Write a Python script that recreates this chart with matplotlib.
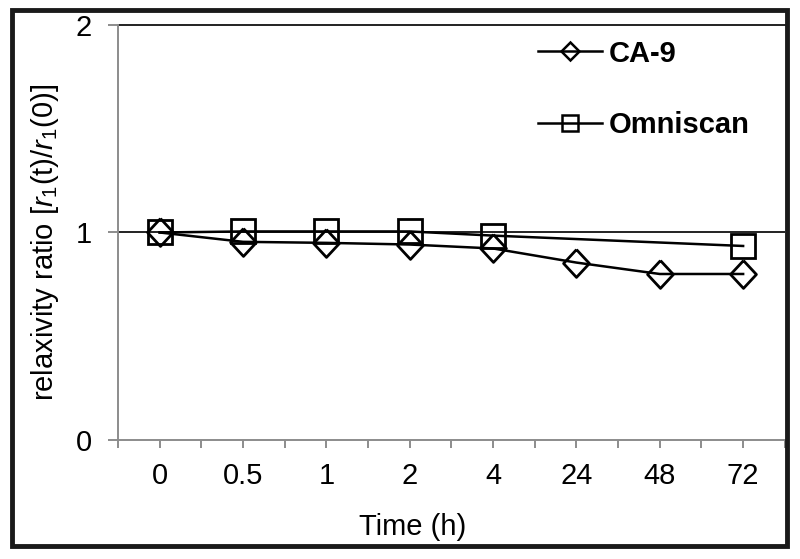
import numpy as np
import matplotlib
matplotlib.use("Agg")
from matplotlib import pyplot as plt
from matplotlib.lines import Line2D
from matplotlib.patches import Rectangle

plt.rcParams['font.family'] = 'Liberation Sans'
plt.rcParams['mathtext.fontset'] = 'custom'
plt.rcParams['mathtext.rm'] = 'Liberation Sans'
plt.rcParams['mathtext.it'] = 'Liberation Sans:italic'

# data
time_labels = ['0', '0.5', '1', '2', '4', '24', '48', '72']
ca9_values = [1.0, 0.955, 0.95, 0.942, 0.923, 0.855, 0.80, 0.80]
omni_labels = ['0', '0.5', '1', '2', '4', '72']
omni_values = [1.0, 1.005, 1.005, 1.005, 0.985, 0.935]

x_ca9 = np.arange(len(time_labels))
x_omni = [time_labels.index(t) for t in omni_labels]

# diamonds are a touch taller than wide
diamond = [(0, 1), (0.93, 0), (0, -1), (-0.93, 0), (0, 1)]

fig = plt.figure(figsize=(8, 5.59), dpi=100)
ax = fig.add_axes([0.1475, 0.2129, 0.8335, 0.7424])

ax.axhline(1, color='#222222', lw=1.4, zorder=1)
ax.axhline(2, color='#222222', lw=1.4, zorder=1, clip_on=False)

ax.plot(x_ca9, ca9_values, color='black', lw=1.8, marker=diamond,
        markersize=20, markerfacecolor='none', markeredgecolor='black',
        markeredgewidth=2.0, zorder=3)
ax.plot(x_omni, omni_values, color='black', lw=1.8, marker='s',
        markersize=17, markerfacecolor='none', markeredgecolor='black',
        markeredgewidth=2.0, zorder=3)

ax.set_xlim(-0.5, len(time_labels) - 0.5)
ax.set_ylim(0, 2)
ax.set_yticks([0, 1, 2])
ax.set_xticks(x_ca9)
ax.set_xticklabels(time_labels)
ax.set_xticks(np.arange(-0.5, len(time_labels), 1.0), minor=True)

for side in ['top', 'right']:
    ax.spines[side].set_visible(False)
for side in ['left', 'bottom']:
    ax.spines[side].set_color('#8c8c8c')
    ax.spines[side].set_linewidth(1.4)

ax.tick_params(axis='both', which='both', direction='out', color='#8c8c8c',
               width=1.4, length=6, labelsize=21)
ax.tick_params(axis='y', pad=12, length=7)
ax.tick_params(axis='x', pad=10)

ax.set_xlabel('Time (h)', fontsize=21)
ax.xaxis.set_label_coords(0.442, -0.21)
ax.xaxis.label.set_va('center')
ax.set_ylabel(r'relaxivity ratio [$\mathit{r}_1$(t)/$\mathit{r}_1$(0)]', fontsize=21)
ax.yaxis.set_label_coords(-0.109, 0.477)
ax.yaxis.label.set_va('center')

handles = [
    Line2D([], [], color='black', lw=1.8, marker='D', markersize=9,
           markerfacecolor='none', markeredgewidth=1.8),
    Line2D([], [], color='black', lw=1.8, marker='s', markersize=12,
           markerfacecolor='none', markeredgewidth=1.8),
]
ax.legend(handles, ['CA-9', 'Omniscan'], loc='upper left',
          bbox_to_anchor=(0.591, 1.028), frameon=False,
          prop={'size': 21, 'weight': 'bold'}, handlelength=2.2,
          handletextpad=0.2, labelspacing=1.5)

# outer frame around the whole figure
fig.patches.append(Rectangle((0.015, 0.0233), 0.969, 0.959,
                             transform=fig.transFigure, fill=False,
                             edgecolor='#1a1a1a', lw=3.5, zorder=10))

fig.savefig('out.png', dpi=100)
